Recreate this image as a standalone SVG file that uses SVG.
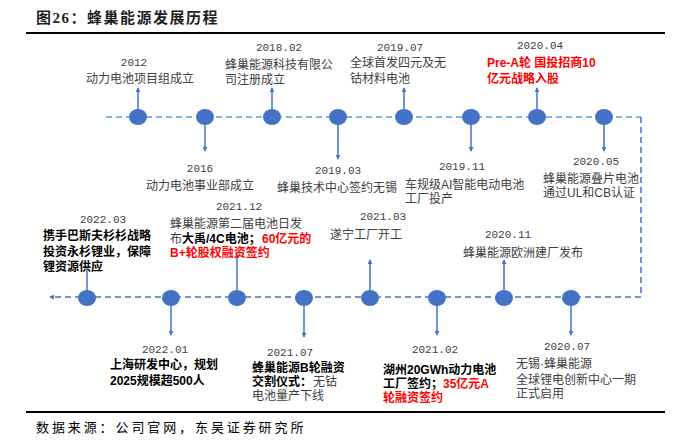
<svg xmlns="http://www.w3.org/2000/svg" width="676" height="445" viewBox="0 0 676 445">
<style>
.t{font-family:"Liberation Sans","Noto Sans CJK SC",sans-serif;font-size:12px;fill:#404040}
.b{font-weight:bold;fill:#000}
.r{font-weight:bold;fill:#ff0000}
.d{font-family:"Liberation Mono","Noto Sans CJK SC",monospace;font-size:11px;fill:#404040;text-anchor:middle}
.n{fill:#4472C4}
.a{stroke:#4472C4;stroke-width:1.5;fill:none}
</style>
<defs>
<marker id="ah" viewBox="0 0 6 6" refX="5" refY="3" markerWidth="5" markerHeight="5" markerUnits="userSpaceOnUse" orient="auto">
<path d="M0,0 L6,3 L0,6 z" fill="#4472C4"/>
</marker>
</defs>
<rect width="676" height="445" fill="#fff"/>
<text x="36" y="23" font-family="'Liberation Serif','Noto Sans CJK SC',serif" font-size="15" font-weight="bold" fill="#1f1f1f" letter-spacing="1.5">图26：蜂巢能源发展历程</text>
<line x1="26" y1="33" x2="665" y2="33" stroke="#000" stroke-width="2"/>
<line x1="26" y1="412" x2="665" y2="412" stroke="#000" stroke-width="2"/>
<text x="36" y="432" font-family="'Liberation Sans','Noto Sans CJK SC',sans-serif" font-size="13" fill="#000" letter-spacing="2.9">数据来源：公司官网，东吴证券研究所</text>

<g id="connectors">
<line x1="106" y1="117" x2="641" y2="117" stroke="#5B9BD5" stroke-width="1.5" stroke-dasharray="6,4"/>
<polyline points="641,117 641,297 50,297" fill="none" stroke="#4472C4" stroke-width="1.5" stroke-dasharray="6,4" marker-end="url(#ah)"/>
<line class="a" x1="138" y1="117" x2="138" y2="88" marker-end="url(#ah)"/>
<line class="a" x1="272" y1="117" x2="272" y2="88" marker-end="url(#ah)"/>
<line class="a" x1="404" y1="117" x2="404" y2="88" marker-end="url(#ah)"/>
<line class="a" x1="537" y1="117" x2="537" y2="88" marker-end="url(#ah)"/>
<line class="a" x1="205" y1="117" x2="205" y2="151" marker-end="url(#ah)"/>
<line class="a" x1="338" y1="117" x2="338" y2="159" marker-end="url(#ah)"/>
<line class="a" x1="471" y1="117" x2="471" y2="151" marker-end="url(#ah)"/>
<line class="a" x1="604" y1="117" x2="604" y2="151" marker-end="url(#ah)"/>
<line class="a" x1="87" y1="298" x2="87" y2="268"/>
<line class="a" x1="237" y1="298" x2="237" y2="254" marker-end="url(#ah)"/>
<line class="a" x1="370" y1="298" x2="370" y2="260" marker-end="url(#ah)"/>
<line class="a" x1="504" y1="298" x2="504" y2="260" marker-end="url(#ah)"/>
<line class="a" x1="171" y1="298" x2="171" y2="335" marker-end="url(#ah)"/>
<line class="a" x1="304" y1="298" x2="304" y2="337" marker-end="url(#ah)"/>
<line class="a" x1="437" y1="298" x2="437" y2="335" marker-end="url(#ah)"/>
<line class="a" x1="571" y1="298" x2="571" y2="335" marker-end="url(#ah)"/>
</g>

<g id="n2012"><ellipse class="n" cx="138" cy="117" rx="9" ry="8"/>
<text class="d" x="134" y="66">2012</text>
<text class="t" x="140" y="83" text-anchor="middle">动力电池项目组成立</text></g>
<g id="n2016"><ellipse class="n" cx="205" cy="117" rx="9" ry="8"/>
<text class="d" x="200" y="172">2016</text>
<text class="t" x="200" y="190" text-anchor="middle">动力电池事业部成立</text></g>
<g id="n201802"><ellipse class="n" cx="272" cy="117" rx="9" ry="8"/>
<text class="d" x="279" y="51">2018.02</text>
<text class="t" x="225" y="69">蜂巢能源科技有限公</text>
<text class="t" x="225" y="84">司注册成立</text></g>
<g id="n201903"><ellipse class="n" cx="338" cy="117" rx="9" ry="8"/>
<text class="d" x="338" y="174">2019.03</text>
<text class="t" x="277" y="192">蜂巢技术中心签约无锡</text></g>
<g id="n201907"><ellipse class="n" cx="404" cy="117" rx="9" ry="8"/>
<text class="d" x="400" y="51">2019.07</text>
<text class="t" x="350" y="67">全球首发四元及无</text>
<text class="t" x="350" y="83">钴材料电池</text></g>
<g id="n201911"><ellipse class="n" cx="471" cy="117" rx="9" ry="8"/>
<text class="d" x="462" y="170">2019.11</text>
<text class="t" x="405" y="189">车规级AI智能电动电池</text>
<text class="t" x="405" y="203">工厂投产</text></g>
<g id="n202004"><ellipse class="n" cx="537" cy="117" rx="9" ry="8"/>
<text class="d" x="540" y="49">2020.04</text>
<text class="t r" x="487" y="67">Pre-A轮 国投招商10</text>
<text class="t r" x="487" y="83">亿元战略入股</text></g>
<g id="n202005"><ellipse class="n" cx="604" cy="117" rx="9" ry="8"/>
<text class="d" x="596" y="165">2020.05</text>
<text class="t" x="543" y="183">蜂巢能源叠片电池</text>
<text class="t" x="543" y="197">通过UL和CB认证</text></g>

<g id="n202007"><ellipse class="n" cx="571" cy="298" rx="9" ry="8"/>
<text class="d" x="567" y="350">2020.07</text>
<text class="t" x="516" y="368">无锡·蜂巢能源</text>
<text class="t" x="516" y="384">全球锂电创新中心一期</text>
<text class="t" x="516" y="398">正式启用</text></g>
<g id="n202011"><ellipse class="n" cx="504" cy="298" rx="9" ry="8"/>
<text class="d" x="508" y="238">2020.11</text>
<text class="t" x="463" y="257">蜂巢能源欧洲建厂发布</text></g>
<g id="n202102"><ellipse class="n" cx="437" cy="298" rx="9" ry="8"/>
<text class="d" x="435" y="353">2021.02</text>
<text class="t b" x="383" y="374">湖州20GWh动力电池</text>
<text class="t b" x="383" y="388">工厂签约；</text>
<text class="t r" x="443" y="388">35亿元A</text>
<text class="t r" x="383" y="402">轮融资签约</text></g>
<g id="n202103"><ellipse class="n" cx="370" cy="298" rx="9" ry="8"/>
<text class="d" x="383" y="220">2021.03</text>
<text class="t" x="330" y="239">遂宁工厂开工</text></g>
<g id="n202107"><ellipse class="n" cx="304" cy="298" rx="9" ry="8"/>
<text class="d" x="290" y="356">2021.07</text>
<text class="t b" x="252" y="372">蜂巢能源B轮融资</text>
<text class="t b" x="252" y="386">交割仪式：</text>
<text class="t" x="313" y="386">无钴</text>
<text class="t" x="252" y="400">电池量产下线</text></g>
<g id="n202112"><ellipse class="n" cx="237" cy="298" rx="9" ry="8"/>
<text class="d" x="239" y="210">2021.12</text>
<text class="t" x="170" y="228">蜂巢能源第二届电池日发</text>
<text class="t" x="170" y="243">布</text>
<text class="t b" x="182" y="243">大禹/4C电池；</text>
<text class="t r" x="262" y="243">60亿元的</text>
<text class="t r" x="170" y="257">B+轮股权融资签约</text></g>
<g id="n202201"><ellipse class="n" cx="171" cy="298" rx="9" ry="8"/>
<text class="d" x="165" y="353">2022.01</text>
<text class="t b" x="110" y="369">上海研发中心，规划</text>
<text class="t b" x="110" y="385">2025规模超500人</text></g>
<g id="n202203"><ellipse class="n" cx="87" cy="298" rx="9" ry="8"/>
<text class="d" x="103" y="223">2022.03</text>
<text class="t b" x="43" y="240">携手巴斯夫杉杉战略</text>
<text class="t b" x="43" y="256">投资永杉锂业，保障</text>
<text class="t b" x="43" y="271">锂资源供应</text></g>
</svg>
